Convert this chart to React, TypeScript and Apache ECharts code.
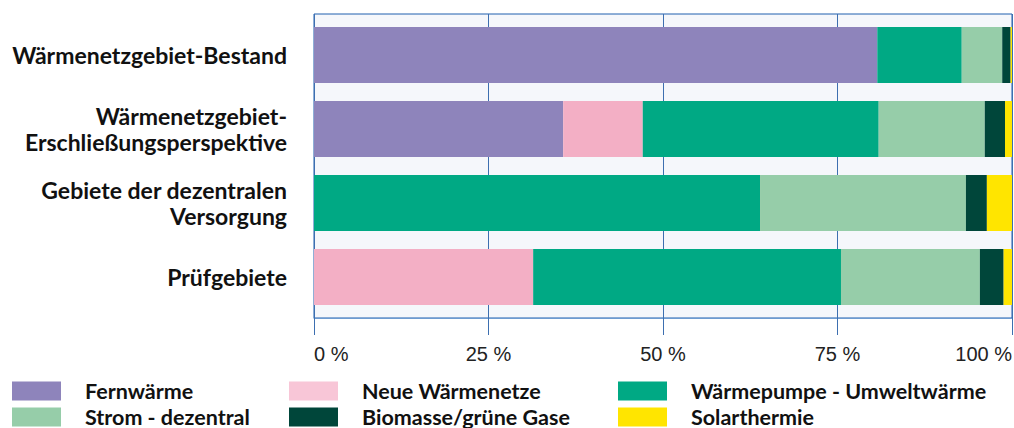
import React, { useEffect, useRef } from "react";
import * as echarts from "echarts";

const categories = [
  "Wärmenetzgebiet-Bestand",
  "Wärmenetzgebiet-\nErschließungsperspektive",
  "Gebiete der dezentralen\nVersorgung",
  "Prüfgebiete",
];
const fernwaerme = [80.7, 35.7, 0, 0];
const neueWaermenetze = [0, 11.4, 0, 31.4];
const waermepumpe = [12.1, 33.8, 63.9, 44.1];
const strom = [5.8, 15.2, 29.5, 19.9];
const biomasse = [1.2, 2.9, 3.0, 3.4];
const solarthermie = [0.2, 1.0, 3.6, 1.2];
const xTicks = [0, 25, 50, 75, 100];

const seriesDefs = [
  { name: "Fernwärme", data: fernwaerme, color: "#8e84bb", legendColor: "#8e84bb" },
  { name: "Neue Wärmenetze", data: neueWaermenetze, color: "#f3afc5", legendColor: "#f8c6d7" },
  { name: "Wärmepumpe - Umweltwärme", data: waermepumpe, color: "#00a984", legendColor: "#00a984" },
  { name: "Strom - dezentral", data: strom, color: "#96cda9", legendColor: "#96cda9" },
  { name: "Biomasse/grüne Gase", data: biomasse, color: "#00463a", legendColor: "#00463a" },
  { name: "Solarthermie", data: solarthermie, color: "#ffe500", legendColor: "#ffe500" },
];

// legend placement: [name, left, top]
const legendLayout: [string, number, number][] = [
  ["Fernwärme", 12, 380],
  ["Strom - dezentral", 12, 406],
  ["Neue Wärmenetze", 289, 380],
  ["Biomasse/grüne Gase", 289, 406],
  ["Wärmepumpe - Umweltwärme", 618, 380],
  ["Solarthermie", 618, 406],
];

const FONT = "Lato";

function legendItem(name: string, left: number, top: number) {
  const d = seriesDefs.find((s) => s.name === name)!;
  return {
    orient: "horizontal",
    left,
    top,
    padding: 0,
    itemWidth: 49,
    itemHeight: 19,
    itemGap: 0,
    icon: "rect",
    selectedMode: false,
    textStyle: {
      fontFamily: FONT,
      fontWeight: "bold",
      fontSize: 21.5,
      lineHeight: 19,
      color: "#111111",
      padding: [0, 0, 0, 19],
    },
    data: [{ name, itemStyle: { color: d.legendColor } }],
  };
}

export default function App() {
  const ref = useRef<HTMLDivElement>(null);
  useEffect(() => {
    if (!ref.current) return;
    const chart = echarts.init(ref.current, null, { renderer: "svg" });
    chart.setOption({
      animation: false,
      backgroundColor: "#ffffff",
      grid: [
        { left: 314, width: 698, top: 18, height: 296, outerBoundsMode: "none", containLabel: false },
        {
          left: 314,
          width: 698,
          top: 14,
          height: 304,
          outerBoundsMode: "none",
          containLabel: false,
          show: true,
          backgroundColor: "#f5f7fb",
          borderColor: "#1f5fae",
          borderWidth: 1,
        },
      ],
      legend: legendLayout.map(([n, l, t]) => legendItem(n, l, t)),
      xAxis: [
        { gridIndex: 0, type: "value", min: 0, max: 100, show: false },
        {
          gridIndex: 1,
          type: "value",
          min: xTicks[0],
          max: xTicks[xTicks.length - 1],
          interval: 25,
          axisLine: { show: true, lineStyle: { color: "#6d9bd1", width: 1 } },
          axisTick: { show: true, length: 17, lineStyle: { color: "#3d6fb0", width: 1 } },
          splitLine: { show: true, lineStyle: { color: "#3d6fb0", width: 1 } },
          axisLabel: {
            formatter: "{value} %",
            fontFamily: "Liberation Sans",
            fontSize: 20,
            color: "#222222",
            margin: 26,
            alignMinLabel: "left",
            alignMaxLabel: "right",
          },
        },
      ],
      yAxis: [
        {
          gridIndex: 0,
          type: "category",
          inverse: true,
          data: categories,
          axisLine: { show: false },
          axisTick: { show: false },
          axisLabel: {
            fontFamily: FONT,
            fontWeight: "bold",
            fontSize: 23,
            lineHeight: 26,
            color: "#111111",
            align: "right",
            margin: 27,
          },
        },
        { gridIndex: 1, type: "value", min: 0, max: 1, show: false },
      ],
      series: seriesDefs.map((s) => ({
        name: s.name,
        type: "bar",
        stack: "total",
        xAxisIndex: 0,
        yAxisIndex: 0,
        barWidth: 56,
        data: s.data,
        itemStyle: { color: s.color },
      })),
    });
    return () => chart.dispose();
  }, []);
  return (
    <div
      ref={ref}
      style={{ position: "absolute", left: 0, top: 0, width: 1014, height: 428 }}
    />
  );
}
